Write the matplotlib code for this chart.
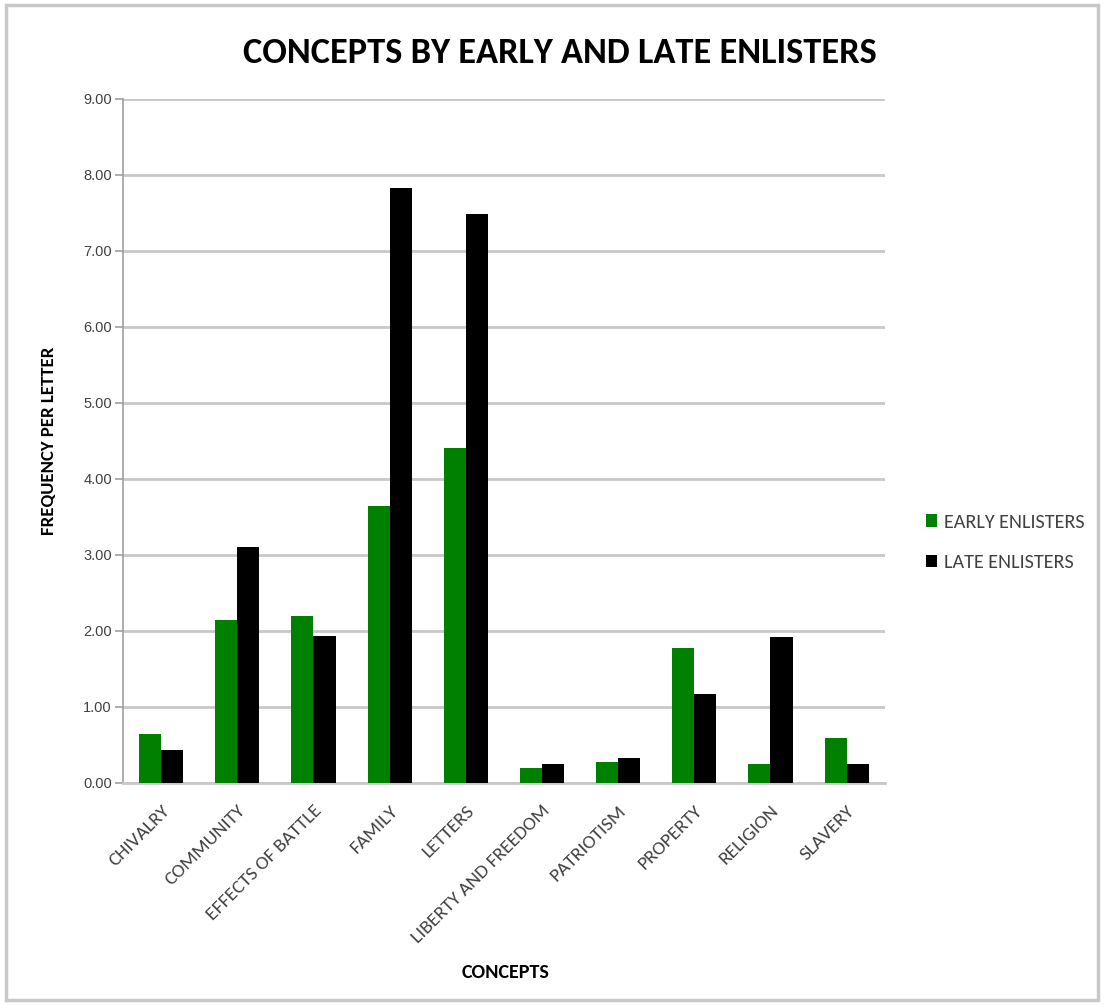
import matplotlib
matplotlib.use("Agg")
import matplotlib.pyplot as plt
import numpy as np
from matplotlib.patches import Rectangle
from matplotlib import font_manager as fm

categories = ["CHIVALRY", "COMMUNITY", "EFFECTS OF BATTLE", "FAMILY", "LETTERS",
              "LIBERTY AND FREEDOM", "PATRIOTISM", "PROPERTY", "RELIGION", "SLAVERY"]
early = [0.65, 2.14, 2.20, 3.65, 4.41, 0.20, 0.28, 1.78, 0.25, 0.59]
late = [0.44, 3.10, 1.93, 7.83, 7.49, 0.25, 0.33, 1.17, 1.92, 0.25]
series_names = ["EARLY ENLISTERS", "LATE ENLISTERS"]
yticks = [0, 1, 2, 3, 4, 5, 6, 7, 8, 9]

names = {f.name for f in fm.fontManager.ttflist}
narrow = None
for cand in ["Carlito", "Liberation Sans Narrow", "Open Sans Condensed", "Roboto Condensed"]:
    if cand in names:
        narrow = cand
        break
base = ['Liberation Sans', 'DejaVu Sans']
plt.rcParams['font.family'] = base
cal = [narrow] + base if narrow else base

fig = plt.figure(figsize=(11.04, 10.05), dpi=100)
fig.patch.set_facecolor("white")
fig.patches.append(Rectangle((0.005, 0.005), 0.99, 0.99, transform=fig.transFigure,
                             fill=False, edgecolor="#c8c8c8", linewidth=2.5))

ax = fig.add_axes([0.1114, 0.2209, 0.690, 0.6806])
x = np.arange(len(categories))
w = 0.29
ax.bar(x - w/2, early, width=w, color="#008000", label=series_names[0], zorder=3)
ax.bar(x + w/2, late, width=w, color="#000000", label=series_names[1], zorder=3)

ax.set_xlim(-0.5, len(categories) - 0.5)
ax.set_ylim(0, 9)
ax.set_yticks(yticks)
ax.set_yticklabels([f"{v:.2f}" for v in yticks], fontsize=10.5, color="#404040")
ax.yaxis.grid(True, color="#c8c8c8", linewidth=2, zorder=0)
ax.set_axisbelow(True)
ax.set_xticks(x)
ax.set_xticklabels(categories, rotation=45, ha="right", va="top", rotation_mode="anchor",
                   fontsize=14, color="#404040", family=cal)
ax.tick_params(axis="x", length=0, pad=14)
ax.tick_params(axis="y", length=6, color="#a0a0a0", width=1.2, pad=2)
for s in ["top", "right"]:
    ax.spines[s].set_visible(False)
ax.spines["left"].set_color("#a0a0a0")
ax.spines["left"].set_linewidth(1.2)
ax.spines["bottom"].set_color("#c8c8c8")
ax.spines["bottom"].set_linewidth(2)

ax.set_ylabel("FREQUENCY PER LETTER", fontsize=13.5, fontweight="bold", labelpad=19,
              family=cal)
fig.text(0.458, 0.032, "CONCEPTS", ha="center", va="center", fontsize=14.5,
         fontweight="bold", family=cal)
fig.text(0.507, 0.947, "CONCEPTS BY EARLY AND LATE ENLISTERS", ha="center", va="center",
         fontsize=26.2 if narrow else 21, fontweight="bold", family=cal)

leg = ax.legend(loc="center left", bbox_to_anchor=(1.03, 0.352), frameon=False,
                prop={'family': cal, 'size': 14.5}, handlelength=0.55, handleheight=0.55,
                handletextpad=0.35, labelspacing=1.15)
for t in leg.get_texts():
    t.set_color("#404040")

fig.savefig("out.png", dpi=100, facecolor="white")
